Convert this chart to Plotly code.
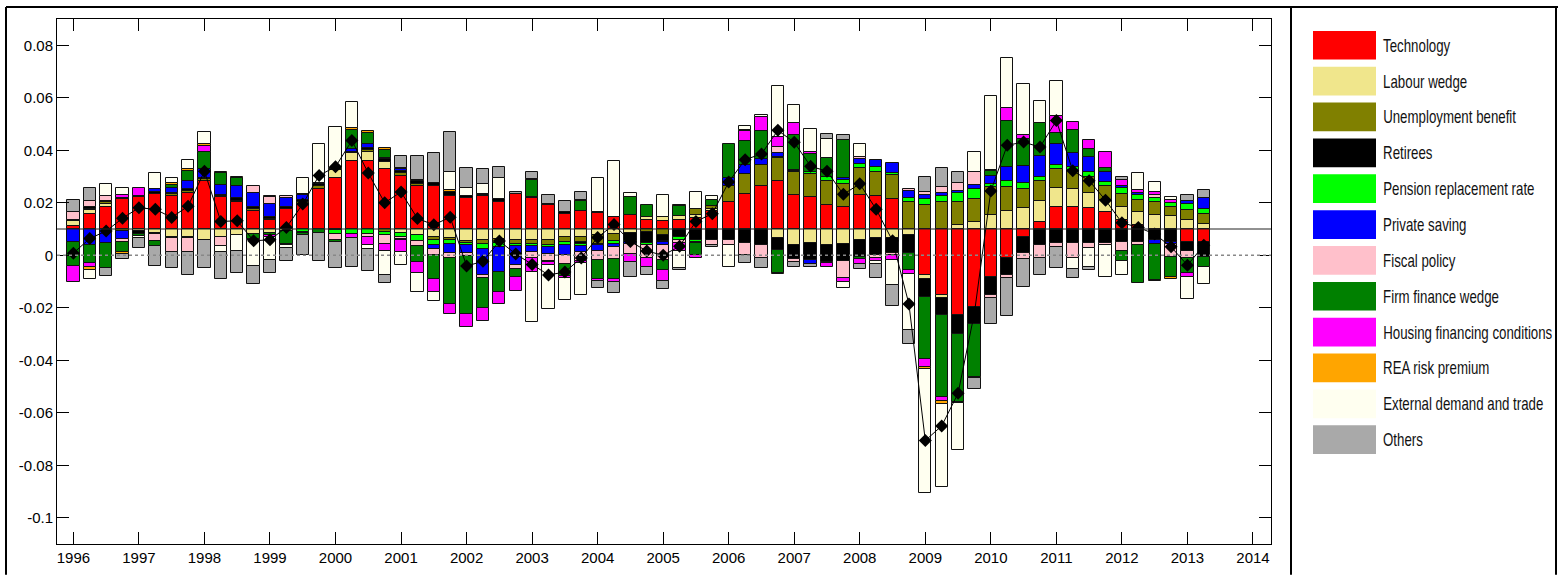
import json
import plotly.graph_objects as go

# ---------------- data (contributions, in units of 0.001) ----------------
quarters = [f"{y}Q{q}" for y in range(1996, 2014) for q in range(1, 5)][:70]
baseline = 0.01

series_names = ["Technology", "Labour wedge", "Unemployment benefit", "Retirees",
                "Pension replacement rate", "Private saving", "Fiscal policy",
                "Firm finance wedge", "Housing financing conditions", "REA risk premium",
                "External demand and trade", "Others"]
series_colors = ["#FF0000", "#F0E68C", "#808000", "#000000", "#00FF00", "#0000FF",
                 "#FFC0CB", "#008000", "#FF00FF", "#FFA500", "#FFFFF0", "#A9A9A9"]

technology = [1.3, 5.8, 8.3, 11.4, 12.1, 13.3, 12.7, 13.7, 18.4, 12.1,
              10.2, 6.7, 3.3, 7.7, 9.6, 15.2, 19.6, 25.9, 26.0, 23.0,
              20.3, 16.5, 16.5, 12.7, 11.9, 12.4, 10.2, 13.3, 11.7, 9.2,
              5.8, 6.8, 6.0, 4.6, 5.4, 3.4, 2.9, 3.3, 4.3, 7.0,
              10.2, 13.3, 16.5, 18.4, 13.0, 12.2, 9.3, 8.4, 13.0, 12.7,
              11.3, 0, -17.4, -25.3, -32.8, -29.7, -18.1, -11.2, -3.0, 2.6,
              8.3, 8.3, 7.9, 6.4, 3.6, 1.6, 0, 0, -4.9, -4.9]
labour_wedge = [1.6, 1.3, 1.3, 0, -0.8, -1.5, -3.0, -3.0, -4.2, -3.0,
                -2.1, -1.8, -1.5, -0.8, 0, 0, 2.8, 2.9, 3.4, 2.6,
                -1.5, -2.4, -3.0, -3.4, -4.5, -4.3, -3.9, -4.3, -4.0, -4.3,
                -3.0, -3.0, -2.1, -1.8, -1.4, 1.2, 1.6, 1.6, 0.9, 0.7,
                0, 0, 0, -3.4, -6.2, -5.5, -6.2, -5.9, -4.3, -3.6,
                -3.4, -2.3, -1.5, -0.8, 1.4, 2.6, 5.4, 7.0, 7.9, 7.9,
                7.2, 6.9, 6.0, 4.8, 4.8, 5.0, 5.4, 4.9, 3.3, 2.0]
unemployment_benefit = [0, 0.6, 0.5, -0.6, 0, -0.4, 0.6, 0.8, 0.6, 0.6,
                        0.5, 0.8, 0.7, 0, 0.6, 1.0, 0.5, 0, 0.6, -1.1,
                        1.0, 0.7, -1.3, -0.9, -0.8, -1.6, -1.6, -1.6, -1.9, -1.9,
                        -1.9, -1.9, -3.5, -2.9, 0, -1.2, -2.1, 0, 2.5, 1.0,
                        6.3, 7.5, 7.9, 8.6, 8.6, 8.6, 8.8, 8.8, 10.1, 9.2,
                        9.2, 10.2, 9.2, 10.3, 9.0, 9.0, 10.7, 8.9, 7.3, 7.8,
                        7.5, 7.3, 6.1, 5.0, 4.8, 4.4, 4.7, 3.5, 4.0, 3.6]
retirees = [0.5, 0.5, 0.6, 0.6, -1.0, 0.8, 0.5, 0.6, 0.6, 0.4,
            1.2, 0.7, 0.6, 0.5, 0.8, 0.8, -0.4, 0.6, 0.9, 1.0,
            0.8, 0.9, 0.9, 1.5, 0.5, 0.4, 1.2, 0, 0.5, 0.5,
            0.6, -1.0, 0.5, 0, -3.1, -4.3, -2.5, -3.0, -4.3, -4.3,
            -4.3, -5.5, -6.2, -4.7, -5.3, -6.3, -6.3, -6.3, -6.3, -6.3,
            -5.9, -6.9, -7.0, -6.8, -7.1, -6.5, -6.9, -6.3, -6.3, -6.2,
            -5.5, -5.5, -5.5, -5.5, -4.9, -4.9, -4.3, -4.9, -3.5, -5.7]
pension_replacement = [0, 0, 0, 0, 0, 0, -0.3, -0.3, 0, 0,
                       -0.3, 0, 0, 0, -1.1, 0, -1.4, -1.8, -1.8, -1.3,
                       -1.5, -2.1, -1.9, -1.6, -0.8, -1.8, -1.3, -0.5, -0.5, -0.6,
                       -1.3, -0.6, -0.6, -0.9, -0.6, -0.6, -0.5, -1.3, -0.6, 0,
                       0, 0, 0, 0.6, 0.6, 0.9, 1.6, 1.3, 1.5, 1.8,
                       1.0, 1.8, 2.3, 2.3, 3.4, 3.5, 1.0, 2.5, 2.5, 1.6,
                       1.3, 1.0, 1.6, 1.6, 2.6, 1.8, 1.9, 1.5, 2.4, 2.2]
private_saving = [-4.8, -6.2, -5.2, -3.3, 0.5, 1.0, 1.8, 3.1, 3.3, 3.5,
                  4.5, 5.7, 5.0, 3.5, 1.9, 0.7, 0, 1.0, 1.3, 0.6,
                  0.9, 0, -1.3, -3.1, -3.0, -9.8, -9.4, -7.5, -2.5, -2.8,
                  -3.8, -2.1, -2.1, -1.3, -0.6, 0, -1.0, 0, 0, 0,
                  2.8, 3.4, 2.1, 1.3, 0.3, -1.6, 0, 0.8, 2.1, 2.6,
                  3.5, 2.3, 1.4, 1.0, 0.8, 1.8, 3.1, 5.2, 6.3, 7.9,
                  8.2, 5.4, 6.0, 3.9, 0.5, 0.9, -1.3, -1.0, 1.0, 4.0]
fiscal_policy = [3.0, 2.3, 2.0, -1.0, 0, -2.5, -5.4, -5.4, 0, -3.4,
                 0, 2.6, 2.5, 1.0, -0.3, 0, -2.5, 0, -1.3, -3.3,
                 -0.8, -2.1, -2.3, -1.9, -1.0, -1.0, 0, -1.4, -2.0, -2.5,
                 -3.5, -3.5, -3.4, -4.6, -3.8, -5.0, -5.7, -0.9, -0.6, -1.9,
                 -1.9, -4.4, -5.0, 2.3, -1.0, 0, -0.5, -6.5, 0.8, -1.3,
                 -0.5, 1.0, 1.1, 2.5, 3.1, 4.8, -1.2, -1.3, -2.1, -4.8,
                 -1.3, -5.7, -1.9, -0.6, -3.5, -1.3, 1.0, -4.7, -2.5, 0]
firm_finance_wedge = [-9.4, -6.7, -9.8, -4.0, -0.8, -1.9, 1.3, 3.8, 6.3, 4.8,
                      3.1, -1.9, -0.6, -4.9, -1.0, -1.4, -0.6, 7.3, 4.2, 2.9,
                      -0.5, -5.8, -9.4, -17.5, -22.4, -11.6, -7.8, -3.1, 6.3, -0.3,
                      -4.4, 4.0, -7.2, -7.5, 6.7, 4.4, -3.8, 3.8, -4.4, 2.5,
                      13.0, 9.2, 10.7, -8.6, 13.2, 6.9, 7.2, 14.6, -0.7, 0,
                      0, -6.3, -23.6, -31.2, -26.0, -20.1, 1.9, 17.6, 10.3, 12.5,
                      4.2, 8.7, 2.8, 1.4, -3.7, -14.5, -13.7, -7.7, -5.9, -3.8]
housing_financing = [-5.9, -1.5, 0, 1.0, 2.9, 0, 0, 0, 2.6, 0,
                     0, -0.6, -0.9, -0.5, 0, 0, 0, -1.6, -3.1, -2.8,
                     -4.4, -4.4, -4.7, -4.0, -5.0, -5.0, -4.4, -5.3, -5.5, -1.5,
                     -0.9, -1.0, -0.8, -1.3, -2.9, -3.4, -4.2, -3.3, -1.2, 0,
                     0, 3.8, 5.3, 3.8, 4.8, 0.8, -1.3, -1.3, -1.9, -1.0,
                     -1.9, -1.5, -3.2, -1.5, -0.5, 0, 0.4, 4.8, 1.4, 0,
                     6.3, 3.1, 3.5, 6.3, 2.4, 1.3, 1.0, 1.0, -1.6, 0]
rea_risk_premium = [0, -1.2, 0, -0.6, 0, 0, 0.6, 0.7, 0.7, 0.5,
                    0.5, 0, 0.6, 0, 0.6, 0, 0.3, 0.7, 0.9, 0.6,
                    0.4, 0.5, 0.3, 0.7, 0.3, 0.5, 0, 0, 0.5, 0,
                    0, 0.3, 0, 0, 0.2, 0, 0, 0.5, 0, 0,
                    0, 0.7, 0, -0.3, 0, 0, 0, 0, 0, 0,
                    0, 0, -0.5, -1.0, 0, -0.4, 0, 0, 0, 0,
                    0, 0, 0, 0, 0, 0, -0.4, -0.6, 0, 0]
external_demand = [0, -3.5, 4.4, 2.5, -0.8, 6.4, 1.9, 3.5, 4.4, -2.5,
                   -5.9, -9.7, -8.8, -1.0, 5.9, 14.8, 15.5, 9.8, -1.5, -9.1,
                   -5.0, -7.2, -3.5, 6.7, 2.8, 3.8, 8.2, 0, -18.9, -16.4,
                   -8.4, -11.9, 12.8, 21.4, 1.3, 0, 8.3, -6.3, 6.3, 1.3,
                   -8.2, 1.5, 1.1, 19.6, 6.9, 8.8, 7.5, -2.5, 5.0, -1.3,
                   -9.8, -21.6, -47.3, -31.7, -17.8, 7.5, 28.3, 19.2, 19.5, 8.6,
                   13.2, -4.2, -7.2, -12.3, -5.3, 6.3, 3.8, 1.2, -8.4, -6.7]
others = [4.5, 5.0, -2.9, -1.9, -4.0, -7.7, -6.3, -8.8, -10.7, -10.1,
          -8.6, -7.0, -5.0, -4.9, -7.5, -10.7, -10.1, -11.1, -8.3, -3.1,
          4.4, 9.4, 11.3, 15.3, 7.9, 5.7, 4.2, 0.9, 2.8, 3.1,
          4.4, 2.9, -2.8, -4.0, -6.0, -2.9, -3.0, -1.0, 0, -0.5,
          0, -3.1, -3.8, 0, -1.9, -0.9, 1.9, 1.8, -2.1, -5.3,
          -8.0, -5.3, 5.9, 7.2, 3.9, -4.4, -10.1, -14.5, -10.7, -6.7,
          -8.1, -3.1, -0.9, 0, 1.1, 0, 0, 0, 2.3, 3.1]

year_labels = [str(y) for y in range(1996, 2015)]
y_tick_values = [-0.1, -0.08, -0.06, -0.04, -0.02, 0, 0.02, 0.04, 0.06, 0.08]
y_tick_labels = ["-0.1", "-0.08", "-0.06", "-0.04", "-0.02", "0", "0.02", "0.04", "0.06", "0.08"]

series_values = [technology, labour_wedge, unemployment_benefit, retirees, pension_replacement,
                 private_saving, fiscal_policy, firm_finance_wedge, housing_financing,
                 rea_risk_premium, external_demand, others]

# ---------------- build figure ----------------
n = len(quarters)
xs = list(range(n))
pos_top = [baseline] * n
neg_bot = [baseline] * n

fig = go.Figure()
for name, color, vals in zip(series_names, series_colors, series_values):
    ys, bases = [], []
    for i, v in enumerate(vals):
        v = v * 1e-3
        if v > 0:
            bases.append(pos_top[i]); ys.append(v); pos_top[i] += v
        elif v < 0:
            bases.append(neg_bot[i]); ys.append(v); neg_bot[i] += v
        else:
            bases.append(None); ys.append(None)
    fig.add_trace(go.Bar(x=xs, y=ys, base=bases, name=name, width=0.75,
                         marker=dict(color=color, line=dict(color="#111111", width=1)),
                         showlegend=False))

total = [baseline + sum(s[i] for s in series_values) * 1e-3 for i in range(n)]
fig.add_trace(go.Scatter(x=xs, y=total, mode="lines+markers", showlegend=False,
                         line=dict(color="black", width=1),
                         marker=dict(symbol="diamond", size=10, color="black")))

# reference lines
fig.add_shape(type="line", xref="paper", x0=0, x1=1, yref="y", y0=baseline, y1=baseline,
              line=dict(color="#222222", width=1), layer="above")
fig.add_shape(type="line", xref="paper", x0=0, x1=1, yref="y", y0=0, y1=0,
              line=dict(color="#888888", width=1.5, dash="dot"), layer="above")

L_, R_, T_, B_ = 57, 1271, 19, 549
def px(xp):
    return (xp - L_) / (R_ - L_)
def py(yp):
    return (B_ - yp) / (B_ - T_)

# outer frame and legend panel
frame = dict(color="black", width=2)
fig.add_shape(type="line", xref="paper", yref="paper", x0=px(6), x1=px(1558), y0=py(7), y1=py(7), line=frame)
fig.add_shape(type="line", xref="paper", yref="paper", x0=px(6), x1=px(6), y0=py(7), y1=py(580), line=frame)
fig.add_shape(type="line", xref="paper", yref="paper", x0=px(1291), x1=px(1291), y0=py(7), y1=py(580), line=frame)
fig.add_shape(type="line", xref="paper", yref="paper", x0=px(1556), x1=px(1556), y0=py(7), y1=py(580), line=frame)

# manual legend
for k, (name, color) in enumerate(zip(series_names, series_colors)):
    cy = 45.5 + 36.2 * k
    fig.add_shape(type="rect", xref="paper", yref="paper", x0=px(1313), x1=px(1376),
                  y0=py(cy - 14.5), y1=py(cy + 14.5), fillcolor=color,
                  line=dict(color=color, width=0))
    fig.add_annotation(xref="paper", yref="paper", x=px(1381), y=py(cy), text=name,
                       showarrow=False, xanchor="left", yanchor="middle",
                       font=dict(family="Liberation Sans, Arial, sans-serif", size=19, color="#111111"))

fig.update_layout(
    width=1558, height=578,
    margin=dict(l=L_, r=1558 - R_, t=T_, b=578 - B_),
    paper_bgcolor="white", plot_bgcolor="white",
    barmode="overlay", bargap=0,
    font=dict(family="Liberation Sans, Arial, sans-serif", color="black"),
)
fig.update_xaxes(range=[-1, 73.1], tickvals=list(range(0, 4 * len(year_labels), 4)), ticktext=year_labels,
                 ticks="inside", ticklen=12, tickwidth=1, tickcolor="black",
                 showline=True, linecolor="black", linewidth=1, mirror="ticks",
                 showgrid=False, zeroline=False, tickfont=dict(size=15))
fig.update_yaxes(range=[-0.11, 0.09], tickvals=y_tick_values, ticktext=y_tick_labels,
                 ticks="inside", ticklen=12, tickwidth=1, tickcolor="black",
                 showline=True, linecolor="black", linewidth=1, mirror="ticks",
                 showgrid=False, zeroline=False, tickfont=dict(size=15))

post = """
document.body.style.margin = '0';
document.body.style.overflow = 'hidden';
var gd = document.getElementById('{plot_id}');
var legendNames = NAMES;
function squeezeLegend() {
  gd.querySelectorAll('text.annotation-text').forEach(function (t) {
    if (legendNames.indexOf(t.textContent) >= 0) {
      t.style.transformBox = 'fill-box';
      t.style.transformOrigin = '0% 50%';
      t.style.transform = 'scaleX(0.7)';
    }
  });
}
squeezeLegend();
if (gd.on) { gd.on('plotly_afterplot', squeezeLegend); }
""".replace("NAMES", json.dumps(series_names))

fig.write_html("out.html", post_script=post, config={"displayModeBar": False})
